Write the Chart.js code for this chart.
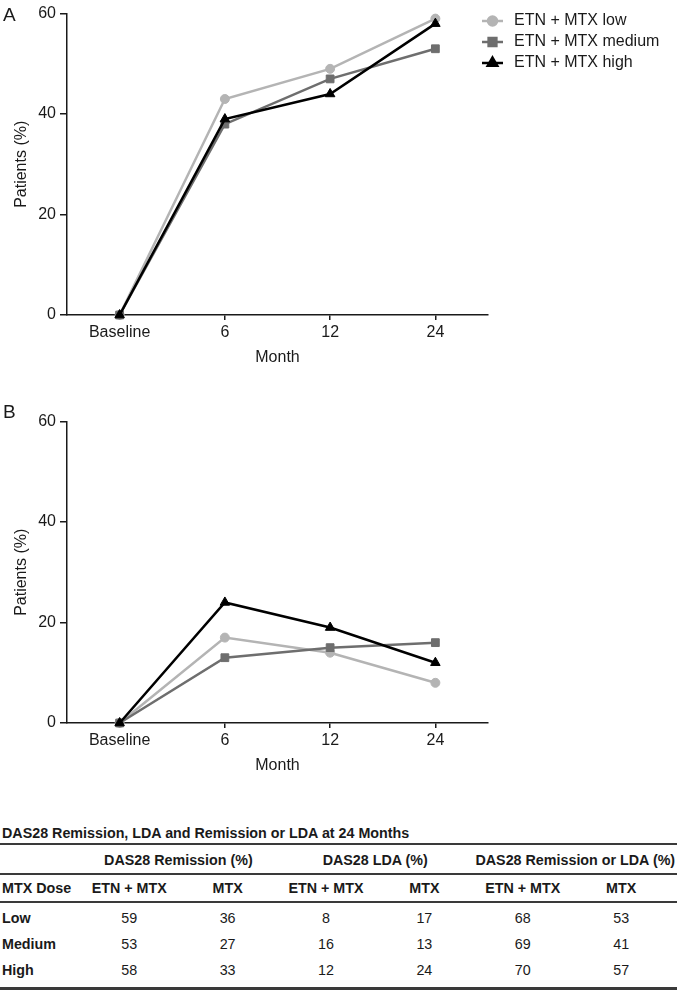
<!DOCTYPE html>
<html>
<head>
<meta charset="utf-8">
<script src="https://cdn.jsdelivr.net/npm/chart.js@4.4.1/dist/chart.umd.min.js"></script>
<style>
  body { margin: 0; background: #fff; font-family: "Liberation Sans", Arial, sans-serif; color: #1a1a1a; }
  #page { position: relative; width: 677px; height: 991px; overflow: hidden; }
  .panel { position: absolute; left: 0; width: 677px; height: 370px; }
  .letter { position: absolute; left: 3px; font-size: 19px; line-height: 18px; }
  #ttl { position: absolute; left: 2px; top: 824px; font-size: 14.3px; line-height: 18px; font-weight: bold; white-space: nowrap; }
  #tbl { position: absolute; left: 0; top: 843px; width: 677px; border-collapse: separate; border-spacing: 0; table-layout: fixed; font-size: 14.3px; }
  #tbl td { padding: 0; text-align: center; white-space: nowrap; }
  #tbl td.lab { text-align: left; padding-left: 2px; font-weight: bold; }
  #tbl tr.grp td { border-top: 2px solid #3a3a3a; border-bottom: 2px solid #3a3a3a; padding-top: 3px; line-height: 25px; font-weight: bold; }
  #tbl tr.hdr td { border-bottom: 2px solid #3a3a3a; line-height: 26px; font-weight: bold; }
  #tbl tr.row td { line-height: 26px; }
  #tbl tr.first td { padding-top: 2px; }
  #tbl tr.last td { padding-bottom: 4px; border-bottom: 3px solid #3a3a3a; }
</style>
</head>
<body>
<div id="page">
  <div class="panel" style="top:0"><canvas id="chartA" width="677" height="370"></canvas></div>
  <div class="panel" style="top:408px"><canvas id="chartB" width="677" height="370"></canvas></div>
  <div class="letter" style="top:6px">A</div>
  <div class="letter" style="top:403px">B</div>
  <div id="ttl">DAS28 Remission, LDA and Remission or LDA at 24 Months</div>
  <table id="tbl"></table>
</div>
<script>
// x categories
const months = ['Baseline', '6', '12', '24'];

// panel A, patients (%)
const lowA = [0, 43, 49, 59];
const mediumA = [0, 38, 47, 53];
const highA = [0, 39, 44, 58];

// panel B, patients (%)
const lowB = [0, 17, 14, 8];
const mediumB = [0, 13, 15, 16];
const highB = [0, 24, 19, 12];

const seriesNames = ['ETN + MTX low', 'ETN + MTX medium', 'ETN + MTX high'];

// table at 24 months
const doses = ['Low', 'Medium', 'High'];
const groups = ['DAS28 Remission (%)', 'DAS28 LDA (%)', 'DAS28 Remission or LDA (%)'];
const remEtn = [59, 53, 58];
const remMtx = [36, 27, 33];
const ldaEtn = [8, 16, 12];
const ldaMtx = [17, 13, 24];
const bothEtn = [68, 69, 70];
const bothMtx = [53, 41, 57];

Chart.defaults.font.family = '"Liberation Sans", Arial, sans-serif';
Chart.defaults.font.size = 16;
Chart.defaults.color = '#1a1a1a';

const styles = [
  { color: '#b4b4b4', pointStyle: 'circle', radius: 4.5, order: 3 },
  { color: '#6e6e6e', pointStyle: 'rect', radius: 5.5, order: 2 },
  { color: '#000000', pointStyle: 'triangle', radius: 5.5, order: 1 }
];

function makeDatasets(values) {
  return values.map((v, i) => ({
    label: seriesNames[i],
    data: v,
    borderColor: styles[i].color,
    backgroundColor: styles[i].color,
    pointBackgroundColor: styles[i].color,
    pointBorderColor: styles[i].color,
    pointStyle: styles[i].pointStyle,
    pointRadius: styles[i].radius,
    pointBorderWidth: 1,
    borderWidth: 2.5,
    order: styles[i].order,
    clip: false,
    tension: 0
  }));
}

// legend drawn at the top right of panel A, line with marker like the original
const sideLegend = {
  id: 'sideLegend',
  afterDraw(chart) {
    const ctx = chart.ctx;
    const rows = [21, 42, 63];
    ctx.save();
    chart.data.datasets.forEach((ds, i) => {
      const y = rows[i];
      ctx.strokeStyle = ds.borderColor;
      ctx.lineWidth = 2.5;
      ctx.beginPath();
      ctx.moveTo(482, y);
      ctx.lineTo(503, y);
      ctx.stroke();
      ctx.fillStyle = ds.backgroundColor;
      Chart.helpers.drawPoint(ctx, {
        pointStyle: ds.pointStyle, radius: ds.pointRadius, rotation: 0, borderWidth: 1
      }, 492.5, y);
      ctx.fillStyle = '#1a1a1a';
      ctx.font = '16px "Liberation Sans", Arial, sans-serif';
      ctx.textBaseline = 'middle';
      ctx.textAlign = 'left';
      ctx.fillText(ds.label, 514, y);
    });
    ctx.restore();
  }
};

function makeChart(id, values, extraPlugins) {
  return new Chart(document.getElementById(id), {
    type: 'line',
    data: { labels: months, datasets: makeDatasets(values) },
    options: {
      responsive: false,
      animation: false,
      layout: { padding: { top: 8, right: 189, left: 0, bottom: 0 } },
      plugins: { legend: { display: false }, tooltip: { enabled: false } },
      scales: {
        x: {
          type: 'category',
          offset: true,
          grid: { drawOnChartArea: false, offset: false, tickLength: 5, color: '#1a1a1a', lineWidth: 1.5 },
          border: { color: '#1a1a1a', width: 1.5 },
          ticks: { padding: 3, maxRotation: 0 },
          title: { display: true, text: 'Month', padding: { top: 0, bottom: 3 } },
          afterFit: s => { s.height = 55; }
        },
        y: {
          min: 0,
          max: 60,
          grid: { drawOnChartArea: false, tickLength: 7, color: '#1a1a1a', lineWidth: 1.5 },
          border: { color: '#1a1a1a', width: 1.5 },
          ticks: { stepSize: 20, padding: 4 },
          title: { display: true, text: 'Patients (%)', padding: { top: 12, bottom: 0 } },
          afterFit: s => { s.width = 67; }
        }
      }
    },
    plugins: extraPlugins
  });
}

makeChart('chartA', [lowA, mediumA, highA], [sideLegend]);
makeChart('chartB', [lowB, mediumB, highB], []);

// table
const tbl = document.getElementById('tbl');
let html = '<colgroup><col style="width:80px">';
for (let i = 0; i < 6; i++) html += '<col style="width:98.4px">';
html += '<col style="width:6.6px"></colgroup>';
html += '<tr class="grp"><td></td><td colspan="2">' + groups[0] + '</td><td colspan="2">' + groups[1] +
        '</td><td colspan="3">' + groups[2] + '</td></tr>';
html += '<tr class="hdr"><td class="lab">MTX Dose</td>';
for (let g = 0; g < 3; g++) html += '<td>ETN + MTX</td><td>MTX</td>';
html += '<td></td></tr>';
const cols = [remEtn, remMtx, ldaEtn, ldaMtx, bothEtn, bothMtx];
doses.forEach((d, r) => {
  let cls = 'row' + (r === 0 ? ' first' : '') + (r === doses.length - 1 ? ' last' : '');
  html += '<tr class="' + cls + '"><td class="lab">' + d + '</td>';
  cols.forEach(c => { html += '<td>' + c[r] + '</td>'; });
  html += '<td></td></tr>';
});
tbl.innerHTML = html;
</script>
</body>
</html>
